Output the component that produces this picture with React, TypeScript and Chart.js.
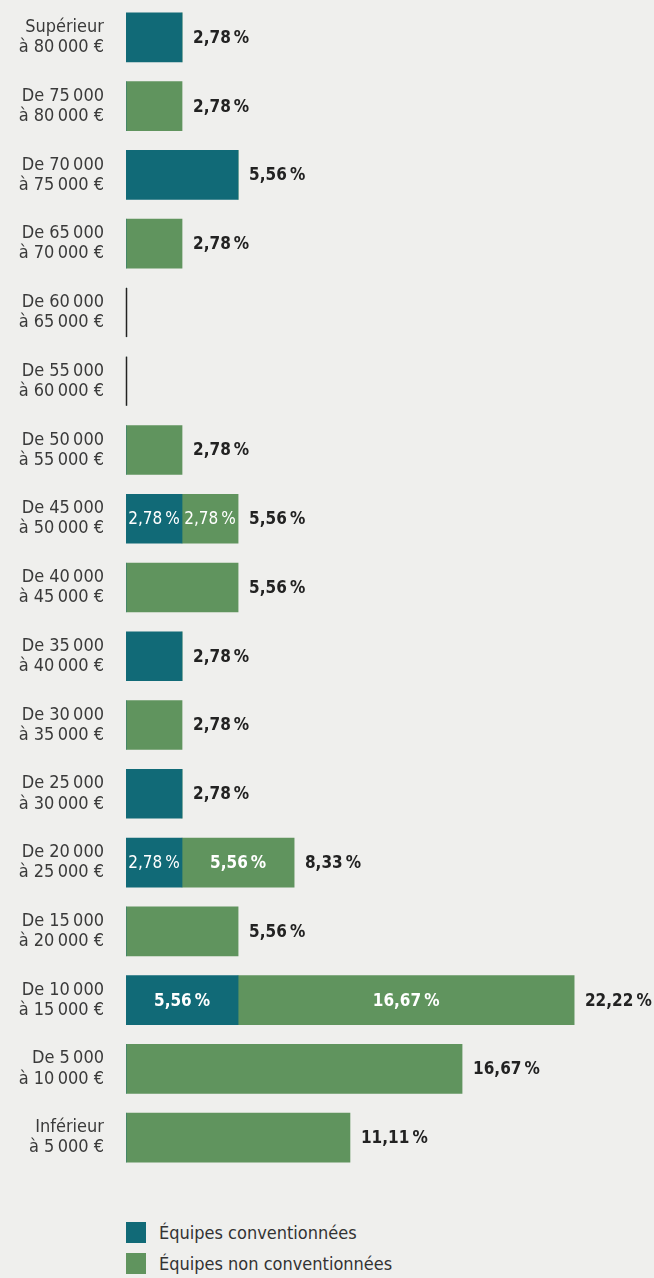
import React, { useEffect, useRef } from "react";
import { Chart, registerables } from "chart.js";
Chart.register(...registerables);

const NB = "\u202F";
const categories: string[][] = [
  ["Supérieur", `à 80${NB}000 €`],
  [`De 75${NB}000`, `à 80${NB}000 €`],
  [`De 70${NB}000`, `à 75${NB}000 €`],
  [`De 65${NB}000`, `à 70${NB}000 €`],
  [`De 60${NB}000`, `à 65${NB}000 €`],
  [`De 55${NB}000`, `à 60${NB}000 €`],
  [`De 50${NB}000`, `à 55${NB}000 €`],
  [`De 45${NB}000`, `à 50${NB}000 €`],
  [`De 40${NB}000`, `à 45${NB}000 €`],
  [`De 35${NB}000`, `à 40${NB}000 €`],
  [`De 30${NB}000`, `à 35${NB}000 €`],
  [`De 25${NB}000`, `à 30${NB}000 €`],
  [`De 20${NB}000`, `à 25${NB}000 €`],
  [`De 15${NB}000`, `à 20${NB}000 €`],
  [`De 10${NB}000`, `à 15${NB}000 €`],
  [`De 5${NB}000`, `à 10${NB}000 €`],
  ["Inférieur", `à 5${NB}000 €`],
];
const conventionnees = [2.78, 0, 5.56, 0, 0, 0, 0, 2.78, 0, 2.78, 0, 2.78, 2.78, 0, 5.56, 0, 0];
const nonConventionnees = [0, 2.78, 0, 2.78, 0, 0, 2.78, 2.78, 5.56, 0, 2.78, 0, 5.56, 5.56, 16.67, 16.67, 11.11];
const totals = [2.78, 2.78, 5.56, 2.78, 0, 0, 2.78, 5.56, 5.56, 2.78, 2.78, 2.78, 8.33, 5.56, 22.22, 16.67, 11.11];
const seriesNames = ["Équipes conventionnées", "Équipes non conventionnées"];
const colors = ["#116a77", "#60945e"];

const FONT = '"DejaVu Sans Condensed", "DejaVu Sans", sans-serif';
const fmt = (v: number) => v.toFixed(2).replace(".", ",") + `${NB}%`;

const labelPlugin = {
  id: "valueLabels",
  afterDatasetsDraw(chart: any) {
    const ctx = chart.ctx;
    const xs = chart.scales.x;
    ctx.save();
    ctx.textBaseline = "middle";
    const m0 = chart.getDatasetMeta(0);
    const m1 = chart.getDatasetMeta(1);
    totals.forEach((t, i) => {
      const y = m0.data[i].y;
      const h = m0.data[i].height;
      if (t === 0) {
        const x0 = xs.getPixelForValue(0) + 0.5;
        ctx.strokeStyle = "#222";
        ctx.lineWidth = 1.5;
        ctx.beginPath();
        ctx.moveTo(x0, y - h / 2);
        ctx.lineTo(x0, y + h / 2);
        ctx.stroke();
        return;
      }
      if (conventionnees[i] > 0 && nonConventionnees[i] > 0) {
        ctx.fillStyle = "#ffffff";
        ctx.textAlign = "center";
        [m0, m1].forEach((m, k) => {
          const el = m.data[i];
          const v = k === 0 ? conventionnees[i] : nonConventionnees[i];
          const w = Math.abs(el.x - el.base);
          ctx.font = `${w < 70 ? "normal 17px" : "bold 17px"} ${FONT}`;
          ctx.fillText(fmt(v), (el.x + el.base) / 2, y + 1);
        });
      }
      ctx.fillStyle = "#222";
      ctx.textAlign = "left";
      ctx.font = `bold 17px ${FONT}`;
      ctx.fillText(fmt(t), xs.getPixelForValue(t) + 11, y + 1);
    });
    ctx.restore();
  },
};

export default function App() {
  const ref = useRef<HTMLCanvasElement>(null);
  useEffect(() => {
    document.body.style.margin = "0";
    document.body.style.background = "#efefed";
    const chart = new Chart(ref.current!, {
      type: "bar",
      data: {
        labels: categories,
        datasets: [
          { label: seriesNames[0], data: conventionnees, backgroundColor: colors[0], barThickness: 49 },
          { label: seriesNames[1], data: nonConventionnees, backgroundColor: colors[1], barThickness: 49 },
        ],
      },
      options: {
        indexAxis: "y",
        animation: false,
        responsive: false,
        layout: { padding: { top: 3, right: 24, bottom: 0, left: 0 } },
        plugins: { legend: { display: false }, tooltip: { enabled: false } },
        scales: {
          x: {
            stacked: true,
            min: 0,
            max: 25,
            display: false,
          },
          y: {
            stacked: true,
            grid: { display: false, drawTicks: false },
            border: { display: false },
            ticks: {
              padding: 22,
              color: "#3a3a3a",
              font: { family: FONT, size: 18, lineHeight: 1.12 },
            },
            afterFit: (s: any) => {
              s.width = 126;
              s.paddingTop = 0;
              s.paddingBottom = 0;
            },
          },
        },
      },
      plugins: [labelPlugin],
    });
    return () => chart.destroy();
  }, []);
  return (
    <div style={{ width: 654, height: 1278, background: "#efefed", position: "relative" }}>
      <canvas ref={ref} width={654} height={1172} style={{ display: "block" }} />
      <div style={{ position: "absolute", left: 126, top: 1217, fontFamily: FONT, fontSize: 18, color: "#333" }}>
        {seriesNames.map((n, i) => (
          <div key={n} style={{ display: "flex", alignItems: "center", height: 31 }}>
            <span style={{ width: 20, height: 21, background: colors[i], display: "inline-block", marginRight: 13 }} />
            <span>{n}</span>
          </div>
        ))}
      </div>
    </div>
  );
}
